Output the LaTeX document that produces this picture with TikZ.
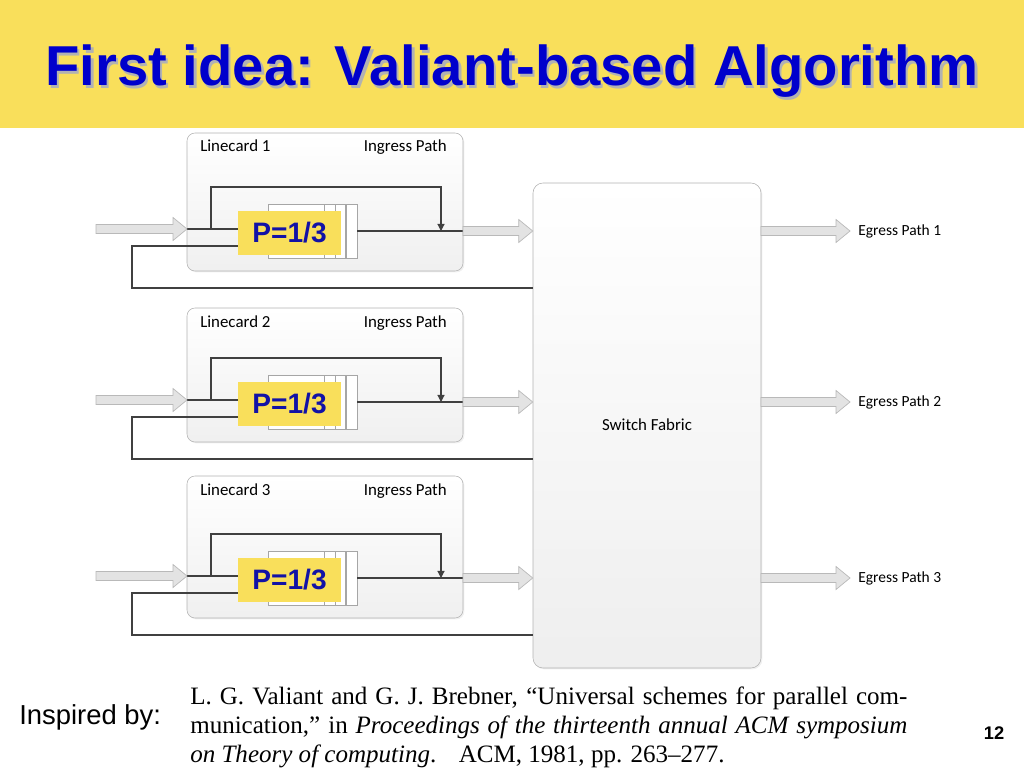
\documentclass[tikz,border=0pt]{standalone}
\usepackage{fontspec}
\setmainfont{Liberation Sans}
\newfontfamily\calfont{Carlito}
\newfontfamily\timesfont{Liberation Serif}
\usetikzlibrary{calc,fit,arrows.meta,shadows}
\definecolor{slideyellow}{HTML}{F9DF5B}
\definecolor{titleblue}{HTML}{0000CC}
\definecolor{probblue}{HTML}{1212A6}
\definecolor{wiregray}{HTML}{404040}
\newcommand\shadowtext[1]{\makebox[0pt][l]{\hspace{1.8pt}\raisebox{-1.8pt}{\textcolor{gray!60}{#1}}}#1}

\begin{document}
\begin{tikzpicture}[x=0.025cm,y=-0.025cm,
  title/.style={font=\fontsize{40}{46}\selectfont\bfseries,text=titleblue,inner sep=0pt,anchor=base},
  card/.style={draw=gray!60,rounded corners=0.2cm,top color=white,bottom color=gray!12,inner sep=0pt,
    drop shadow={opacity=0.12,shadow xshift=1pt,shadow yshift=-1pt}},
  queue/.style={draw=gray!70,line width=0.5pt,fill=white,inner sep=0pt},
  qline/.style={draw=gray!70,line width=0.5pt},
  prob/.style={fill=slideyellow,text=probblue,font=\fontsize{20}{24}\selectfont\bfseries,
    minimum width=2.575cm,minimum height=1.1cm,inner sep=0pt},
  lbl/.style={font=\calfont\fontsize{12}{14}\selectfont,inner sep=0pt},
  wire/.style={draw=wiregray,line width=0.8pt},
  fatarrow/.style={draw=gray!55,fill=gray!22,line width=0.5pt,
    to path={($(\tikztostart)+(0,-4.5)$) -- ($(\tikztotarget |- \tikztostart)+(-14,-4.5)$)
      -- ($(\tikztotarget |- \tikztostart)+(-14,-11.5)$) -- (\tikztotarget |- \tikztostart)
      -- ($(\tikztotarget |- \tikztostart)+(-14,11.5)$) -- ($(\tikztotarget |- \tikztostart)+(-14,4.5)$)
      -- ($(\tikztostart)+(0,4.5)$) -- cycle}}]
  \useasboundingbox (0,0) rectangle (1024,768);

  % header
  \fill[slideyellow] (0,0) rectangle (1024,128);
  \node[title] (ttl) at (512,86) {\shadowtext{First idea: Valiant-based Algorithm}};

  % switch fabric
  \node[card,rounded corners=0.25cm,bottom color=gray!13,fit={(533,183) (761,668)}] (sf) {};
  \node[lbl] (sflbl) at (647,425) {Switch Fabric};

  % linecards
  \foreach \i/\yc/\top in {1/229/133,2/400/308,3/576/476} {
    \node[card,fit={(187,\top) (463,\yc+42)}] (lc\i) {};
    \node[lbl,anchor=base west] (lcname\i) at (200,\top+19) {Linecard \i};
    \node[lbl,anchor=base east] (lcpath\i) at (447,\top+19) {Ingress Path};
    \coordinate (src\i) at (96,\yc);
    \coordinate (in\i) at (187,\yc);
    \coordinate (br\i) at (211,\yc);
    \coordinate (mg\i) at (441,\yc+2);
    \coordinate (out\i) at (463,\yc+2);
    \coordinate (lo\i) at (132,\yc+17);
    \coordinate (ret\i) at (132,\yc+59);
    \coordinate (eg\i) at (850,\yc+2);
    \coordinate (egs\i) at (761,\yc+2);
    % queue
    \node[queue,fit={(268,\yc-25) (357,\yc+29)}] (q\i) {};
    \foreach \qx in {324,335} \draw[qline] (\qx,\yc-25) -- (\qx,\yc+29);
    \draw[qline,line width=0.9pt] (346,\yc-25) -- (346,\yc+29);
    \node[prob] (p\i) at (289.5,\yc+4) {P=1/3};
    % wires
    \draw[wire] (in\i) -- (in\i -| p\i.west);
    \draw[wire,-{Triangle[length=5pt,width=5pt]}] (br\i) -- ++(0,-42) -| (mg\i);
    \draw[wire] (q\i.east |- out\i) -- (out\i);
    \draw[wire] (p\i.west |- lo\i) -- (lo\i) -- (ret\i) -- (ret\i -| sf.west);
    % block arrows
    \draw[fatarrow] (src\i) to (in\i);
    \draw[fatarrow] (out\i) to (sf.west);
    \draw[fatarrow] (egs\i) to (eg\i);
    \node[lbl,font=\calfont\fontsize{11}{13}\selectfont,anchor=west] (egl\i) at (858,\yc+2) {Egress Path \i};
  }

  % footer
  \node[font=\fontsize{19.5}{23}\selectfont,anchor=base west,inner sep=0pt] (insp) at (19,724) {Inspired by:};
  \node[font=\timesfont\fontsize{17.8}{20.3}\selectfont,text width=17.925cm,align=justify,
    anchor=north west,inner sep=0pt] (ref) at (190,687)
    {L. G. Valiant and G. J. Brebner, “Universal schemes for parallel com-\linebreak
     munication,” in \textit{Proceedings of the thirteenth annual ACM symposium}\linebreak
     \textit{on Theory of computing}.\hspace{0.9em}ACM, 1981, pp. 263–277.};
  \node[font=\fontsize{13}{15}\selectfont\bfseries,anchor=base,inner sep=0pt] (pg) at (994,739) {12};
\end{tikzpicture}
\end{document}
